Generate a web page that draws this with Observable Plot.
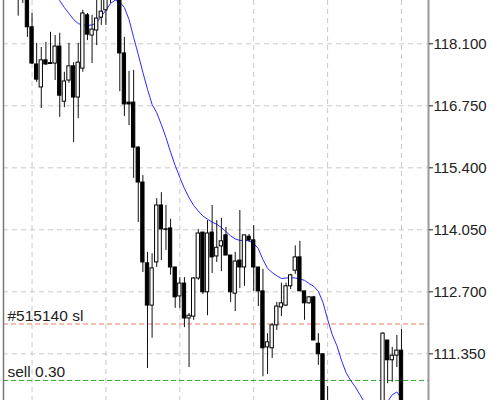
<!DOCTYPE html>
<html>
<head>
<meta charset="utf-8">
<script src="https://cdn.jsdelivr.net/npm/d3@7"></script>
<script src="https://cdn.jsdelivr.net/npm/@observablehq/plot@0.6"></script>
<style>
  html, body { margin: 0; padding: 0; background: #fff; }
  #chart svg { display: block; }
</style>
</head>
<body>
<div id="chart"></div>
<script>
// Bar index (visible bars only)
const bars  = [0,1,2,3,4,5,6,7,8,9,10,11,12,13,14,15,16,17,18,19,20,21,22,23,24,25,26,27,28,29,30,31,32,33,34,35,36,37,38,39,40,41,42,43,44,45,46,47,48,49,50,51,52,53,54,55,56,57,58,59,60,61,62,63,64,65,66,67,79,80,81,82,83];
const open  = [119.30,119.20,119.15,118.46,117.65,117.15,117.74,117.66,117.67,118.04,116.84,117.30,117.61,116.93,117.56,118.72,118.28,118.39,118.67,118.83,119.10,119.30,119.30,117.89,116.82,116.82,115.84,115.08,113.32,112.40,113.34,114.58,114.06,114.08,113.23,112.60,112.88,112.12,112.16,112.99,113.99,112.69,113.99,113.47,113.69,113.93,113.49,112.66,113.38,113.23,113.90,113.82,113.23,112.71,111.49,111.47,111.97,112.36,112.40,112.82,113.16,113.45,112.71,112.45,112.58,111.57,111.34,110.20,110.20,111.64,111.21,111.31,111.42];
const high  = [119.40,119.30,119.25,118.76,118.11,118.02,118.13,118.35,118.28,118.33,117.48,118.11,117.69,118.11,118.83,118.76,118.72,119.08,119.10,119.25,119.40,119.55,119.40,118.24,117.50,117.52,115.86,115.23,113.56,113.53,114.73,114.86,114.58,114.28,113.23,113.01,113.01,112.23,113.01,114.06,113.99,114.25,114.58,114.25,114.30,114.10,113.49,113.56,114.47,113.93,113.95,114.14,113.23,113.19,111.79,112.01,112.47,112.89,112.89,113.08,113.70,113.80,112.71,112.60,112.60,111.79,111.34,110.64,111.81,111.64,111.49,111.75,111.88];
const low   = [118.70,118.98,118.24,117.65,117.26,116.69,117.63,117.65,117.30,116.50,116.71,117.24,115.95,116.47,117.48,118.17,117.67,118.06,118.50,118.50,118.98,119.10,117.06,116.52,116.32,115.17,114.21,113.12,111.03,111.69,113.23,113.38,113.60,113.06,112.34,112.34,111.92,111.05,112.08,112.95,112.64,112.18,113.10,113.34,113.14,113.49,112.47,112.27,112.77,112.82,113.78,112.71,112.38,110.85,110.90,111.25,111.86,112.16,112.38,112.75,113.08,112.71,112.08,112.43,111.64,111.10,110.10,109.70,110.10,110.70,110.73,111.05,110.10];
const close = [119.15,119.10,118.46,117.67,117.32,117.74,117.65,117.68,118.04,116.97,117.28,117.61,116.93,117.69,118.76,118.30,118.41,118.65,118.80,119.15,119.30,119.45,117.89,116.78,116.78,115.84,115.08,113.34,112.40,113.21,114.58,114.06,114.05,113.23,112.58,112.88,112.12,112.18,112.99,113.97,112.69,113.97,113.45,113.66,113.80,113.49,112.69,113.36,113.23,113.93,113.82,113.23,112.71,111.47,111.60,111.97,112.38,112.45,112.82,113.06,113.45,112.71,112.45,112.58,111.64,111.34,110.20,109.90,111.79,111.21,111.31,111.42,110.20];

// Moving average (blue line)
const maBars   = [8,9,10,11,12,13,14,15,16,17,18,19,20,21,22,23,24,25,26,27,28,29,30,31,32,33,34,35,36,37,38,39,40,41,42,43,44,45,46,47,48,49,50,51,52,53,54,55,56,57,58,59,60,61,62,63,64,65,66,67,68,69,70,71,72,73,74,75,76,77,78,79,80,81,82,83];
const maValues = [119.15,119.04,118.89,118.76,118.63,118.54,118.51,118.50,118.51,118.56,118.70,118.83,118.98,119.05,119.01,118.89,118.63,118.24,117.87,117.48,117.11,116.78,116.60,116.34,116.06,115.74,115.45,115.19,114.95,114.75,114.58,114.46,114.35,114.28,114.22,114.17,114.10,114.01,113.92,113.85,113.82,113.82,113.81,113.75,113.64,113.40,113.21,113.12,113.05,112.99,113.00,113.01,113.00,112.98,112.95,112.88,112.82,112.71,112.47,112.10,111.77,111.53,111.21,110.94,110.77,110.63,110.46,110.29,110.16,110.07,110.07,110.16,110.31,110.46,110.52,110.38];

// Axis ticks, vertical grid bars, order levels
const yTicks     = [111.35, 112.70, 114.05, 115.40, 116.75, 118.10];
const gridBars   = [3, 19, 35, 51, 67, 83];
const levels     = [112.00, 110.77];
const levelNames = ["#515140 sl", "sell 0.30"];
const levelColors = ["#ef7d5e", "#36a836"];

const candles = bars.map((b, i) => ({bar: b, open: open[i], high: high[i], low: low[i], close: close[i]}));
const ma = maBars.map((b, i) => ({bar: b, value: maValues[i]}));
const lv = levels.map((v, i) => ({value: v, name: levelNames[i], color: levelColors[i]}));

const xDomain = [-3.18, 88.85];
const yDomain = [110.334, 119.043];
const font = "Helvetica, Arial, 'Liberation Sans', sans-serif";

const chart = Plot.plot({
  width: 495,
  height: 400,
  marginLeft: 3,
  marginRight: 67,
  marginTop: 0,
  marginBottom: 0,
  style: {background: "#fff", fontFamily: font},
  x: {domain: xDomain, axis: null},
  y: {domain: yDomain, axis: null},
  marks: [
    Plot.ruleY(yTicks, {stroke: "#c9c9c9", strokeDasharray: "5,4"}),
    Plot.ruleX(gridBars, {stroke: "#c9c9c9", strokeDasharray: "5,4"}),
    Plot.ruleY(lv, {y: "value", stroke: "color", strokeDasharray: "5,3"}),
    Plot.text(lv, {y: "value", frameAnchor: "left", dx: 4, dy: -3, text: "name",
      textAnchor: "start", lineAnchor: "bottom", fontSize: 15.5, fill: "#222", fontFamily: font}),
    Plot.line(ma, {x: "bar", y: "value", stroke: "#2a2aff", strokeWidth: 1, clip: true}),
    Plot.ruleX(candles, {x: "bar", y1: "low", y2: "high", stroke: "#111", strokeWidth: 1, clip: true}),
    Plot.rect(candles, {
      x1: d => d.bar - 0.36, x2: d => d.bar + 0.36,
      y1: "open", y2: "close",
      fill: d => d.close >= d.open ? "#fff" : "#000",
      stroke: "#000", strokeWidth: 1, clip: true
    }),
    Plot.ruleX([xDomain[0]], {stroke: "#777", strokeWidth: 1.5}),
    Plot.ruleX([xDomain[1]], {stroke: "#9a9a9a", strokeWidth: 2}),
    Plot.axisY(yTicks, {anchor: "right", tickSize: 4, tickPadding: 1,
      tickFormat: d3.format(".3f"), fontSize: 15, fill: "#222", stroke: "#222"})
  ]
});
document.getElementById("chart").appendChild(chart);
</script>
</body>
</html>
